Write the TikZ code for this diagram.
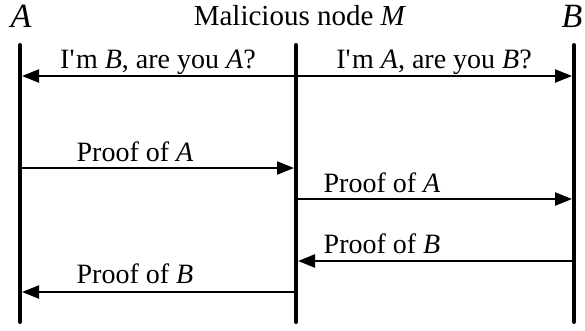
\documentclass[tikz,border=0pt]{standalone}
\usepackage{fontspec}
\setmainfont{Liberation Serif}
\usetikzlibrary{arrows.meta}
\newcommand{\apos}{\textquotesingle\kern1.5pt}
\begin{document}
\begin{tikzpicture}[x=1pt,y=-1pt,
  lifeline/.style={line width=4pt,line cap=round},
  msg/.style={line width=2.4pt,-{Triangle[length=17pt,width=13pt]}},
  lbl/.style={anchor=base,inner sep=0pt,font=\fontsize{28}{32}\selectfont},
  head/.style={anchor=base,inner sep=0pt,font=\fontsize{29}{32}\selectfont},
  party/.style={anchor=base,inner sep=0pt,font=\fontsize{34}{38}\selectfont\itshape}]
\useasboundingbox (0,0) rectangle (585,330);
% lifeline end points
\coordinate (Atop) at (20,45);  \coordinate (Abot) at (20,322);
\coordinate (Mtop) at (296,45); \coordinate (Mbot) at (296,322);
\coordinate (Btop) at (574,45); \coordinate (Bbot) at (574,322);
\draw[lifeline] (Atop) -- (Abot);
\draw[lifeline] (Mtop) -- (Mbot);
\draw[lifeline] (Btop) -- (Bbot);
% headings
\node[party] (hA) at (21,27) {A};
\node[head] (hM) at (300,25) {Malicious node \textit{M}};
\node[party] (hB) at (572,27) {B};
% message anchor points on the lifelines
\coordinate (m1) at (296,76);  \coordinate (a1) at (22,76);  \coordinate (b1) at (572,76);
\coordinate (a2) at (20,168);  \coordinate (m2) at (294,168);
\coordinate (m3) at (296,199); \coordinate (b3) at (572,199);
\coordinate (b4) at (574,261); \coordinate (m4) at (298,261);
\coordinate (m5) at (296,292); \coordinate (a5) at (22,292);
% messages
\draw[msg] (m1) -- (a1);
\draw[msg] (m1) -- (b1);
\draw[msg] (a2) -- (m2);
\draw[msg] (m3) -- (b3);
\draw[msg] (b4) -- (m4);
\draw[msg] (m5) -- (a5);
% message labels
\node[lbl] (t1) at (158,68) {I\apos m \textit{B}, are you \textit{A}?};
\node[lbl] (t2) at (434,68) {I\apos m \textit{A}, are you \textit{B}?};
\node[lbl] (t3) at (135,161) {Proof of \textit{A}};
\node[lbl] (t4) at (382,192) {Proof of \textit{A}};
\node[lbl] (t5) at (382,253) {Proof of \textit{B}};
\node[lbl] (t6) at (135,283) {Proof of \textit{B}};
\end{tikzpicture}
\end{document}
